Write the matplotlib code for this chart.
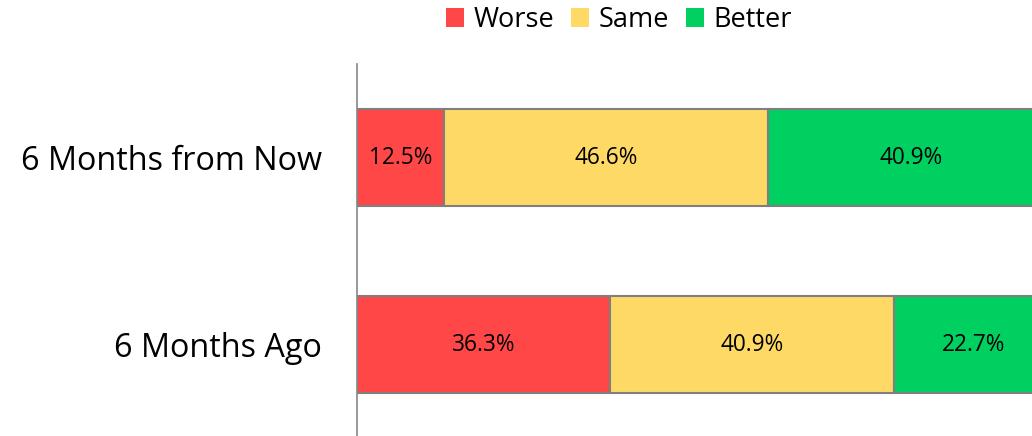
import matplotlib.pyplot as plt
import numpy as np

# ---------------------------------------------------------------------------
# Data
# ---------------------------------------------------------------------------
categories = ["6 Months Ago", "6 Months from Now"]
series_names = ["Worse", "Same", "Better"]
worse = [36.3, 12.5]
same = [40.9, 46.6]
better = [22.7, 40.9]

colors = ["#FF4747", "#FFD966", "#00D060"]

plt.rcParams["font.family"] = ["Open Sans", "DejaVu Sans"]

fig = plt.figure(figsize=(10.32, 4.36), dpi=100)
ax = fig.add_axes([357 / 1032, -2 / 436, 696 / 1032, 1 - 62 / 436])

y = np.arange(len(categories))
left = np.zeros(len(categories))
for name, vals, col in zip(series_names, [worse, same, better], colors):
    bars = ax.barh(y, vals, left=left, height=0.52, color=col,
                   edgecolor="#7F7F7F", linewidth=1.5, label=name)
    for b, v in zip(bars, vals):
        ax.text(b.get_x() + b.get_width() / 2, b.get_y() + b.get_height() / 2,
                f"{v:.1f}%", ha="center", va="center", fontsize=16.3,
                color="black")
    left += np.array(vals)

ax.set_xlim(0, 100)
ax.set_ylim(-0.5, 1.5)
ax.set_yticks(y)
ax.set_yticklabels(categories, fontsize=23.3)
ax.tick_params(axis="y", length=0, pad=25)
ax.set_xticks([])
for s in ("top", "right", "bottom"):
    ax.spines[s].set_visible(False)
ax.spines["left"].set_color("#868686")
ax.spines["left"].set_linewidth(1.2)

# legend handles without edge
handles, labels = ax.get_legend_handles_labels()
leg = fig.legend(handles, labels, loc="center", bbox_to_anchor=(619 / 1032, 1 - 20 / 436),
                 ncol=3, frameon=False, fontsize=19.5, handlelength=0.67,
                 handleheight=0.67, handletextpad=0.37, columnspacing=0.6,
                 borderaxespad=0, borderpad=0)
for h in leg.legend_handles:
    h.set_edgecolor("none")

fig.savefig("out.png", dpi=100)
